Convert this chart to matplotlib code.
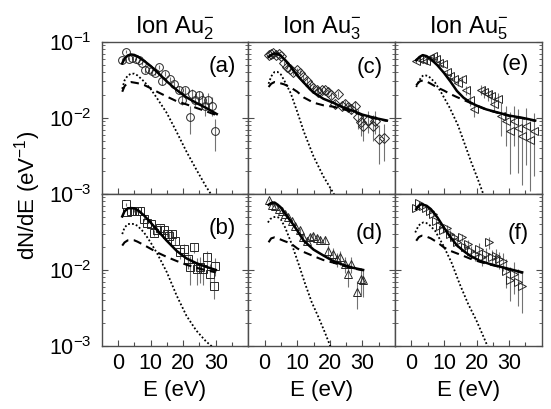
import matplotlib
matplotlib.use('Agg')
import matplotlib.pyplot as plt
from matplotlib.ticker import FixedLocator, NullFormatter

plt.rcParams['font.family'] = ['Liberation Sans', 'DejaVu Sans']
plt.rcParams['mathtext.fontset'] = 'custom'
plt.rcParams['mathtext.rm'] = 'Liberation Sans'
plt.rcParams['mathtext.it'] = 'Liberation Sans:italic'
plt.rcParams['mathtext.bf'] = 'Liberation Sans:bold'

# ---------------- data ----------------
titles = [r'Ion Au$_2^{-}$', r'Ion Au$_3^{-}$', r'Ion Au$_5^{-}$']
panel_labels = ['(a)', '(b)', '(c)', '(d)', '(e)', '(f)']
xtick_labels = ['0', '10', '20', '30']
ytick_vals = [1e-3, 1e-2, 1e-1]

# (a) Au2-, upper
e_a = [1.3, 2.3, 3.4, 4.4, 5.4, 6.4, 7.4, 8.4, 9.5, 10.5, 11.5, 12.5, 13.5, 14.5, 16.1, 17.1, 18.6,
       19.6, 20.6, 22.2, 22.7, 23.7, 24.7, 25.7, 26.7, 27.7, 28.8, 29.8]
y_a = [0.058, 0.074, 0.060, 0.062, 0.060, 0.057, 0.053, 0.042, 0.044, 0.041, 0.039, 0.047, 0.030, 0.038,
       0.032, 0.028, 0.0234, 0.0173, 0.0230, 0.0102, 0.0207, 0.0173, 0.0197, 0.0169, 0.0145, 0.0169,
       0.0145, 0.0067]
err_a = [0.003, 0.003, 0.003, 0.003, 0.003, 0.003, 0.003, 0.003, 0.003, 0.003, 0.003, 0.003, 0.003, 0.003,
         0.0025, 0.0025, 0.0025, 0.0025, 0.0025, 0.004, 0.003, 0.003, 0.003, 0.004, 0.004, 0.004, 0.004, 0.003]
fit_e_a = [1.3, 2, 3, 4, 5, 6, 8, 10, 12, 15, 18, 21, 24, 27, 30.3]
solid_a = [0.052, 0.060, 0.066, 0.068, 0.067, 0.064, 0.056, 0.048, 0.040, 0.030, 0.0232, 0.0186, 0.0157, 0.0135, 0.0112]
dashed_a = [0.022, 0.026, 0.029, 0.0295, 0.029, 0.0285, 0.027, 0.0245, 0.022, 0.019, 0.0165, 0.015, 0.0135, 0.0122, 0.0108]
dot_e_a = [1.3, 2, 3, 4, 5, 6, 8, 10, 12, 15, 18, 21, 24, 27, 28.6]
dotted_a = [0.024, 0.031, 0.036, 0.038, 0.038, 0.036, 0.030, 0.024, 0.018, 0.0115, 0.0065, 0.0036, 0.0021, 0.00125, 0.00098]

# (b) Au2-, lower
e_b = [2.3, 2.8, 3.9, 4.9, 5.9, 6.9, 7.9, 8.9, 10.0, 11.0, 12.0, 13.0, 14.0, 15.0, 15.5, 16.6, 17.6, 19.1,
       20.1, 21.6, 22.2, 23.2, 24.2, 25.2, 26.2, 27.2, 28.3, 29.3, 29.8]
y_b = [0.073, 0.057, 0.060, 0.060, 0.060, 0.059, 0.047, 0.042, 0.040, 0.031, 0.034, 0.036, 0.033, 0.030,
       0.028, 0.030, 0.024, 0.017, 0.0188, 0.0139, 0.0108, 0.0198, 0.0103, 0.0108, 0.0103, 0.0147, 0.0089,
       0.0062, 0.0114]
err_b = [0.003, 0.003, 0.003, 0.003, 0.003, 0.003, 0.003, 0.003, 0.003, 0.003, 0.003, 0.003, 0.003, 0.003,
         0.003, 0.003, 0.003, 0.003, 0.003, 0.0035, 0.0045, 0.003, 0.004, 0.004, 0.004, 0.003, 0.003, 0.002, 0.003]
fit_e_b = [1.3, 2, 3, 4, 5, 6, 8, 10, 12, 15, 18, 21, 24, 27, 30]
solid_b = [0.0505, 0.059, 0.0645, 0.065, 0.0645, 0.0615, 0.052, 0.042, 0.0335, 0.0241, 0.0178, 0.0142, 0.0123, 0.011, 0.0100]
dashed_b = [0.0209, 0.023, 0.0245, 0.0247, 0.0245, 0.0235, 0.0212, 0.019, 0.017, 0.0148, 0.0131, 0.0117, 0.0107, 0.0099, 0.0093]
dot_e_b = [1.3, 2, 3, 4, 5, 6, 8, 10, 12, 15, 18, 21, 24, 27, 28.9]
dotted_b = [0.0296, 0.036, 0.040, 0.0405, 0.040, 0.038, 0.031, 0.023, 0.0165, 0.0093, 0.0046, 0.0025, 0.0016, 0.00115, 0.00098]

# (c) Au3-, upper
e_c = [1.2, 2.0, 2.7, 3.5, 4.3, 5.1, 5.8, 6.8, 7.8, 8.8, 9.9, 10.9, 11.9, 12.9, 13.9, 14.9, 16.0, 16.5,
       17.5, 18.5, 19.5, 20.5, 21.5, 22.6, 23.6, 24.6, 25.6, 26.6, 27.6, 28.7, 29.7, 30.2, 31.7, 33.2,
       33.8, 35.2, 36.7]
y_c = [0.067, 0.070, 0.072, 0.067, 0.070, 0.065, 0.052, 0.047, 0.044, 0.040, 0.042, 0.039, 0.034, 0.030,
       0.027, 0.025, 0.023, 0.022, 0.023, 0.023, 0.022, 0.0197, 0.0153, 0.0207, 0.0145, 0.0153, 0.0138,
       0.0131, 0.0141, 0.0102, 0.0087, 0.0079, 0.0093, 0.0079, 0.0092, 0.0053, 0.0055]
err_c = [0.003, 0.003, 0.003, 0.003, 0.003, 0.003, 0.003, 0.003, 0.003, 0.003, 0.003, 0.003, 0.003, 0.003,
         0.002, 0.002, 0.002, 0.002, 0.002, 0.002, 0.002, 0.002, 0.002, 0.002, 0.002, 0.002, 0.002,
         0.002, 0.0025, 0.003, 0.003, 0.003, 0.003, 0.003, 0.003, 0.0028, 0.0028]
fit_e_c = [1.2, 2, 3, 4, 5, 6, 8, 10, 12, 15, 18, 21, 24, 27, 30, 34, 37.5]
solid_c = [0.063, 0.067, 0.070, 0.069, 0.065, 0.059, 0.047, 0.036, 0.029, 0.0215, 0.0178, 0.0158, 0.0137, 0.0124, 0.011, 0.0099, 0.0092]
dashed_c = [0.0254, 0.028, 0.0295, 0.029, 0.0283, 0.0275, 0.025, 0.022, 0.0185, 0.0158, 0.0146, 0.0140, 0.0130, 0.0120, 0.0108, 0.0098, 0.0091]
dot_e_c = [1.2, 2, 3, 4, 5, 6, 8, 10, 12, 15, 18, 21.3]
dotted_c = [0.028, 0.035, 0.040, 0.040, 0.037, 0.031, 0.021, 0.012, 0.0066, 0.0031, 0.0017, 0.00099]

# (d) Au3-, lower
e_d = [1.2, 2.2, 3.3, 4.3, 5.3, 6.3, 7.3, 8.3, 9.3, 10.9, 11.9, 12.9, 13.9, 14.9, 16.0, 17.0, 18.5, 19.5,
       21.1, 22.1, 23.1, 24.6, 25.6, 26.6, 28.2, 29.7, 30.3]
y_d = [0.083, 0.072, 0.070, 0.063, 0.060, 0.054, 0.049, 0.044, 0.038, 0.033, 0.027, 0.024, 0.027, 0.028,
       0.026, 0.025, 0.025, 0.018, 0.0163, 0.0139, 0.0147, 0.012, 0.0089, 0.012, 0.0051, 0.0077, 0.0074]
err_d = [0.003, 0.003, 0.003, 0.003, 0.003, 0.003, 0.003, 0.003, 0.003, 0.003, 0.003, 0.003, 0.003, 0.003,
         0.003, 0.003, 0.003, 0.003, 0.003, 0.003, 0.003, 0.003, 0.003, 0.003, 0.002, 0.003, 0.003]
fit_e_d = [1.2, 2, 3, 4, 5, 6, 8, 10, 12, 15, 18, 21, 24, 27, 30.2]
solid_d = [0.072, 0.076, 0.077, 0.072, 0.066, 0.057, 0.044, 0.033, 0.0242, 0.0185, 0.0155, 0.0131, 0.0117, 0.0107, 0.0100]
dashed_d = [0.0231, 0.026, 0.0268, 0.026, 0.025, 0.024, 0.0223, 0.0192, 0.0172, 0.0152, 0.0135, 0.0125, 0.0114, 0.0105, 0.0099]
dot_e_d = [1.0, 1.7, 2.5, 3.3, 4.2, 5.0, 6.3, 8.3, 10.4, 12.4, 14.4, 16.5, 18.5, 20.2]
dotted_d = [0.042, 0.0466, 0.049, 0.050, 0.049, 0.046, 0.036, 0.0219, 0.0120, 0.0066, 0.0038, 0.0024, 0.0015, 0.00098]

# (e) Au5-, upper
e_e = [1.5, 2.5, 3.5, 4.5, 5.6, 6.6, 7.6, 8.6, 9.6, 10.8, 12.0, 13.0, 14.3, 15.4, 16.7, 17.9, 19.1, 21.4,
       22.4, 23.4, 24.4, 25.5, 26.5, 27.5, 29.0, 30.2, 31.5, 32.8, 34.0, 35.3, 36.3, 37.6]
y_e = [0.056, 0.060, 0.057, 0.056, 0.062, 0.065, 0.060, 0.053, 0.051, 0.040, 0.035, 0.032, 0.029, 0.032,
       0.023, 0.0173, 0.0131, 0.0234, 0.0218, 0.0203, 0.0191, 0.0153, 0.0178, 0.0107, 0.0092, 0.0068,
       0.0092, 0.0074, 0.0058, 0.0079, 0.0051, 0.0067]
err_e = [0.003, 0.003, 0.003, 0.003, 0.003, 0.003, 0.003, 0.003, 0.003, 0.003, 0.003, 0.003, 0.003, 0.003,
         0.003, 0.003, 0.003, 0.0035, 0.0035, 0.0035, 0.0035, 0.0035, 0.0035, 0.005, 0.005, 0.0050, 0.005,
         0.0055, 0.0045, 0.0055, 0.0040, 0.0050]
fit_e_e = [1.5, 2.5, 3.5, 4.7, 6, 8, 10, 12, 14, 16, 18, 20, 23, 26, 30, 34, 38]
solid_e = [0.057, 0.063, 0.0667, 0.0646, 0.059, 0.049, 0.039, 0.030, 0.0225, 0.0184, 0.0160, 0.0145, 0.0129, 0.0119, 0.0107, 0.0100, 0.0092]
dashed_e = [0.0268, 0.030, 0.031, 0.030, 0.028, 0.025, 0.0228, 0.0205, 0.0187, 0.0172, 0.0158, 0.0145, 0.0128, 0.0118, 0.0106, 0.0099, 0.0091]
dot_e_e = [1.5, 2.2, 3.0, 3.7, 4.5, 5.3, 7.3, 9.3, 11.8, 14.3, 16.4, 18.4, 20.4, 22.1]
dotted_e = [0.0254, 0.0296, 0.034, 0.0362, 0.036, 0.0352, 0.029, 0.021, 0.0135, 0.0080, 0.0045, 0.0026, 0.00156, 0.00099]

# (f) Au5-, lower
e_f = [1.5, 2.5, 3.5, 4.5, 5.6, 6.6, 7.6, 8.8, 9.8, 10.8, 12.0, 13.0, 14.0, 15.4, 16.4, 17.4, 18.4, 19.4,
       20.7, 21.7, 22.9, 23.9, 24.9, 26.0, 27.0, 28.0, 29.0, 30.2, 31.5, 32.8, 34.0]
y_f = [0.066, 0.075, 0.070, 0.066, 0.059, 0.054, 0.044, 0.038, 0.034, 0.036, 0.030, 0.027, 0.023, 0.027,
       0.0198, 0.0219, 0.0176, 0.0162, 0.0188, 0.0147, 0.0162, 0.0230, 0.0150, 0.0154, 0.0139, 0.0132,
       0.0098, 0.0074, 0.0089, 0.0069, 0.0062]
err_f = [0.003, 0.003, 0.003, 0.003, 0.003, 0.003, 0.003, 0.003, 0.003, 0.003, 0.003, 0.003, 0.003, 0.003,
         0.003, 0.003, 0.003, 0.003, 0.0035, 0.0035, 0.0035, 0.004, 0.0035, 0.0035, 0.0035, 0.0035,
         0.004, 0.0035, 0.004, 0.0035, 0.0035]
fit_e_f = [1.5, 2.3, 3.2, 4.7, 6, 8, 10, 12, 14, 16, 18, 21, 24, 27, 30, 34]
solid_f = [0.063, 0.070, 0.0733, 0.0697, 0.063, 0.049, 0.036, 0.027, 0.021, 0.0178, 0.0154, 0.0132, 0.0120, 0.0111, 0.0103, 0.0093]
dashed_f = [0.0242, 0.027, 0.0282, 0.0274, 0.026, 0.023, 0.0198, 0.0178, 0.0165, 0.0153, 0.0141, 0.0128, 0.0118, 0.0110, 0.0102, 0.0092]
dot_e_f = [1.2, 2.2, 3.0, 3.7, 4.5, 5.3, 7.3, 9.8, 12.3, 14.8, 17.4, 19.9, 21.9, 23.4]
dotted_f = [0.0311, 0.0381, 0.041, 0.0421, 0.0415, 0.0401, 0.0327, 0.021, 0.0126, 0.0066, 0.0036, 0.0022, 0.0014, 0.00099]

panels = [
    (e_a, y_a, err_a, fit_e_a, solid_a, dashed_a, dot_e_a, dotted_a, 'o'),
    (e_b, y_b, err_b, fit_e_b, solid_b, dashed_b, dot_e_b, dotted_b, 's'),
    (e_c, y_c, err_c, fit_e_c, solid_c, dashed_c, dot_e_c, dotted_c, 'D'),
    (e_d, y_d, err_d, fit_e_d, solid_d, dashed_d, dot_e_d, dotted_d, '^'),
    (e_e, y_e, err_e, fit_e_e, solid_e, dashed_e, dot_e_e, dotted_e, '<'),
    (e_f, y_f, err_f, fit_e_f, solid_f, dashed_f, dot_e_f, dotted_f, '>'),
]
# position of each panel: (row, col)
grid_pos = [(0, 0), (1, 0), (0, 1), (1, 1), (0, 2), (1, 2)]
label_y = [0.84, 0.77, 0.83, 0.74, 0.85, 0.74]
msize = {'o': 5.6, 's': 5.2, 'D': 5.0, '^': 6.0, '<': 6.0, '>': 6.0}

# ---------------- figure ----------------
fig = plt.figure(figsize=(5.51, 4.09), dpi=100)
gs = fig.add_gridspec(2, 3, left=0.1846, right=0.9831, top=0.898, bottom=0.154,
                      wspace=0, hspace=0)
FS = 15.5
spine_c = '0.3'

for k, (ex, ey, er, fe, so, da, de, do, mk) in enumerate(panels):
    r, c = grid_pos[k]
    ax = fig.add_subplot(gs[r, c])
    ax.set_yscale('log')
    ax.set_xlim(-5, 40)
    ax.set_ylim(1e-3, 1e-1)

    ax.errorbar(ex, ey, yerr=er, fmt='none', ecolor='0.45', elinewidth=0.8, capsize=0, zorder=2)
    ax.plot(ex, ey, linestyle='none', marker=mk, markersize=msize[mk], markerfacecolor='none',
            markeredgecolor='0.15', markeredgewidth=0.7, zorder=3)
    ax.plot(de, do, color='black', lw=1.3, linestyle=(0, (1, 1.2)), zorder=4)
    ax.plot(fe, da, color='black', lw=1.5, linestyle=(0, (4, 2.6)), zorder=4)
    ax.plot(fe, so, color='black', lw=1.8, linestyle='-', zorder=5)

    ax.text(0.915, label_y[k], panel_labels[k], transform=ax.transAxes, ha='right', va='center',
            fontsize=FS + 0.5)

    for s in ax.spines.values():
        s.set_color(spine_c)
        s.set_linewidth(1.0)

    ax.xaxis.set_major_locator(FixedLocator([0, 10, 20, 30]))
    ax.xaxis.set_minor_locator(FixedLocator([5, 15, 25, 35]))
    ax.tick_params(axis='both', which='both', direction='in', color=spine_c)
    ax.tick_params(axis='x', which='major', length=4, width=0.8, top=False, pad=5, labelsize=FS)
    ax.tick_params(axis='x', which='minor', length=3, width=0.8, top=False)
    ax.tick_params(axis='y', which='major', length=4, width=0.8, right=True, pad=7, labelsize=FS)
    ax.tick_params(axis='y', which='minor', length=2.2, width=0.6, right=True)

    if r == 1:
        ax.set_xticklabels(xtick_labels)
        ax.set_xlabel('E (eV)', fontsize=16, labelpad=4)
    else:
        ax.set_xticklabels([])

    ax.set_yticks(ytick_vals)
    ax.yaxis.set_minor_formatter(NullFormatter())
    if c == 0:
        if r == 0:
            ax.set_yticklabels([r'$10^{-3}$', r'$10^{-2}$', r'$10^{-1}$'])
        else:
            ax.set_yticklabels([r'$10^{-3}$', r'$10^{-2}$', ''])
    else:
        ax.set_yticklabels([])

    if r == 0:
        ax.set_title(titles[c], fontsize=17, pad=5)

fig.text(28 / 551, 1 - 195 / 409, r'dN/dE (eV$^{-1}$)', rotation=90, ha='center', va='center',
         fontsize=16)

fig.savefig('out.png', dpi=100)
